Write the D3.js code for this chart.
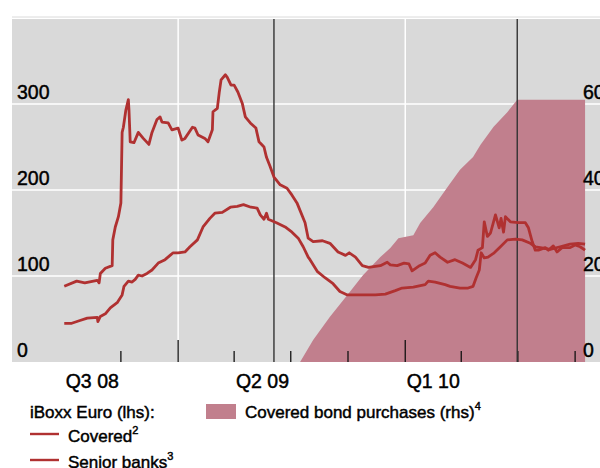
<!DOCTYPE html>
<html>
<head>
<meta charset="utf-8">
<script src="https://cdn.jsdelivr.net/npm/d3@7"></script>
<style>
    body { margin: 0; background: #fff; }
    svg text { font-family: "Liberation Sans", Arial, sans-serif; fill: #000; stroke: #000; stroke-width: 0.45px; }
</style>
</head>
<body>
<div id="chart"></div>
<script>
// iBoxx Euro spreads (lhs, bp) and cumulative covered bond purchases (rhs, bn EUR)
const coveredDates = ["2008-07-02", "2008-07-14", "2008-07-26", "2008-08-08", "2008-08-24", "2008-08-25", "2008-08-29",
    "2008-09-06", "2008-09-14", "2008-09-25", "2008-10-03", "2008-10-06", "2008-10-13", "2008-10-19", "2008-10-24",
    "2008-10-29", "2008-11-04", "2008-11-12", "2008-11-20", "2008-11-30", "2008-12-11", "2008-12-19", "2008-12-24",
    "2009-01-01", "2009-01-12", "2009-01-20", "2009-02-01", "2009-02-10", "2009-02-21", "2009-03-01", "2009-03-13",
    "2009-03-26", "2009-04-06", "2009-04-16", "2009-04-28", "2009-05-08", "2009-05-13", "2009-05-19", "2009-05-23",
    "2009-05-26", "2009-06-08", "2009-06-22", "2009-07-03", "2009-07-13", "2009-07-21", "2009-07-29", "2009-08-01",
    "2009-08-13", "2009-08-25", "2009-09-07", "2009-09-18", "2009-09-30", "2009-10-21", "2009-11-14", "2009-11-30",
    "2009-12-16", "2009-12-27", "2010-01-14", "2010-02-02", "2010-02-07", "2010-02-18", "2010-03-06", "2010-03-14",
    "2010-03-30", "2010-04-12", "2010-04-20", "2010-04-25", "2010-04-30", "2010-05-03", "2010-05-08", "2010-05-14",
    "2010-05-24", "2010-06-03", "2010-06-14", "2010-06-27", "2010-07-08", "2010-07-21", "2010-07-29", "2010-08-06",
    "2010-08-22", "2010-09-07", "2010-09-23", "2010-10-06", "2010-10-17"];
const coveredValues = [45, 45, 48, 51, 52, 47, 53,
    56, 63, 69, 78, 88, 94, 93, 96,
    101, 100, 103, 107, 115, 119, 124, 127,
    127, 128, 134, 142, 157, 167, 173, 174,
    180, 181, 183, 180, 179, 171, 166, 173,
    166, 162, 157, 151, 144, 134, 122, 119,
    105, 98, 91, 82, 78, 78, 78, 79,
    83, 86, 87, 90, 94, 93, 90, 88,
    86, 86, 88, 98, 107, 127, 121, 122,
    127, 134, 142, 143, 142, 138, 134, 133,
    131, 134, 137, 138, 137];

const seniorDates = ["2008-07-02", "2008-07-22", "2008-08-04", "2008-08-24", "2008-08-27", "2008-08-29", "2008-09-06",
    "2008-09-17", "2008-09-18", "2008-09-22", "2008-09-27", "2008-10-01", "2008-10-03", "2008-10-05", "2008-10-09",
    "2008-10-13", "2008-10-14", "2008-10-16", "2008-10-22", "2008-10-29", "2008-11-06", "2008-11-15", "2008-11-20",
    "2008-11-28", "2008-12-03", "2008-12-06", "2008-12-16", "2008-12-22", "2009-01-01", "2009-01-07", "2009-01-12",
    "2009-01-24", "2009-01-28", "2009-02-02", "2009-02-13", "2009-02-18", "2009-02-25", "2009-02-26", "2009-03-05",
    "2009-03-08", "2009-03-11", "2009-03-18", "2009-03-21", "2009-03-27", "2009-04-01", "2009-04-07", "2009-04-14",
    "2009-04-19", "2009-04-27", "2009-05-06", "2009-05-11", "2009-05-19", "2009-05-23", "2009-05-29", "2009-06-04",
    "2009-06-14", "2009-06-25", "2009-07-03", "2009-07-11", "2009-07-24", "2009-07-29", "2009-08-06", "2009-08-21",
    "2009-09-02", "2009-09-15", "2009-09-27", "2009-10-03", "2009-10-13", "2009-10-24", "2009-11-03", "2009-11-22",
    "2009-12-03", "2009-12-08", "2009-12-19", "2009-12-30", "2010-01-07", "2010-01-12", "2010-01-24", "2010-02-02",
    "2010-02-10", "2010-02-18", "2010-02-26", "2010-03-10", "2010-03-22", "2010-04-03", "2010-04-16", "2010-04-24",
    "2010-04-28", "2010-05-05", "2010-05-08", "2010-05-13", "2010-05-18", "2010-05-26", "2010-06-01", "2010-06-04",
    "2010-06-08", "2010-06-11", "2010-06-19", "2010-07-02", "2010-07-13", "2010-07-18", "2010-07-24", "2010-07-29",
    "2010-08-03", "2010-08-14", "2010-08-19", "2010-08-27", "2010-09-02", "2010-09-10", "2010-09-23", "2010-10-01",
    "2010-10-09", "2010-10-17"];
const seniorValues = [88, 94, 92, 95, 92, 103, 109,
    112, 142, 157, 169, 185, 267, 273, 293,
    305, 293, 256, 255, 267, 260, 253, 267,
    282, 285, 279, 278, 270, 272, 258, 260,
    273, 272, 264, 260, 256, 270, 291, 295,
    313, 328, 334, 331, 322, 322, 314, 301,
    285, 278, 272, 256, 250, 238, 227, 215,
    206, 202, 194, 185, 162, 144, 140, 141,
    138, 128, 124, 127, 122, 112, 110, 112,
    116, 113, 112, 115, 114, 106, 112, 115,
    124, 127, 122, 116, 119, 115, 110, 119,
    130, 133, 163, 146, 150, 171, 156, 167,
    151, 169, 163, 162, 162, 156, 140, 130,
    130, 133, 130, 135, 128, 133, 133, 136,
    134, 130];

const purchaseDates = ["2009-07-16", "2009-08-06", "2009-09-02", "2009-09-30", "2009-10-25", "2009-11-22", "2009-12-08",
    "2009-12-21", "2010-01-14", "2010-01-25", "2010-02-15", "2010-03-10", "2010-03-30", "2010-04-20", "2010-05-02",
    "2010-05-23", "2010-06-14", "2010-06-30", "2010-10-17"];
const purchaseValues = [0, 5.1, 10.5, 15.6, 20.2, 24.4, 26.5,
    28.8, 29.5, 32.3, 36, 40.7, 44.7, 47.7, 50.5,
    54.7, 58.1, 61, 61];

const leftTicks = [0, 100, 200, 300];
const rightTicks = [0, 20, 40, 60];
const quarterLabels = ["Q3 08", "Q2 09", "Q1 10"];
const quarterLabelStarts = ["2008-07-01", "2009-04-01", "2010-01-01"];
const eventDates = ["2009-06-04", "2010-06-30"];

const parse = d3.timeParse("%Y-%m-%d");
const width = 600, height = 468;
const plot = { left: 12, top: 19, right: 600, bottom: 362 };
const lineColor = "#b03131";
const fillColor = "#c17f8d";

const svg = d3.select("#chart").append("svg")
    .attr("width", width)
    .attr("height", height);

const x = d3.scaleTime()
    .domain([parse("2008-04-09"), parse("2010-11-10")])
    .range([plot.left, plot.right]);
const yLeft = d3.scaleLinear().domain([0, 400]).range([plot.bottom, 18]);
const yRight = d3.scaleLinear().domain([0, 80]).range([plot.bottom, 18]);

// background + top rule
svg.append("line")
    .attr("x1", plot.left).attr("x2", plot.right)
    .attr("y1", 17).attr("y2", 17)
    .attr("stroke", "#dadada").attr("stroke-width", 1);
svg.append("rect")
    .attr("x", plot.left).attr("y", plot.top)
    .attr("width", plot.right - plot.left).attr("height", plot.bottom - plot.top)
    .attr("fill", "#d9d9d9");

// white grid
svg.selectAll(".hgrid").data(leftTicks.filter(d => d > 0)).enter().append("line")
    .attr("x1", plot.left).attr("x2", plot.right)
    .attr("y1", d => yLeft(d)).attr("y2", d => yLeft(d))
    .attr("stroke", "#fff").attr("stroke-width", 1.5);
const yearStarts = [parse("2009-01-01"), parse("2010-01-01")];
svg.selectAll(".vgrid").data(yearStarts).enter().append("line")
    .attr("x1", d => x(d)).attr("x2", d => x(d))
    .attr("y1", plot.top).attr("y2", plot.bottom)
    .attr("stroke", "#fff").attr("stroke-width", 1.5);

// covered bond purchases (rhs)
const purchases = purchaseDates.map((d, i) => ({ date: parse(d), value: purchaseValues[i] }));
svg.append("path")
    .datum(purchases)
    .attr("fill", fillColor)
    .attr("d", d3.area()
        .x(d => x(d.date))
        .y0(yRight(0))
        .y1(d => yRight(d.value)));

// quarter ticks, long ones at year starts
const quarterTicks = d3.timeMonth.every(3).range(parse("2008-10-01"), parse("2010-10-02"));
svg.selectAll(".qtick").data(quarterTicks).enter().append("line")
    .attr("x1", d => x(d)).attr("x2", d => x(d))
    .attr("y1", d => d.getMonth() === 0 ? plot.bottom - 22 : plot.bottom - 11)
    .attr("y2", plot.bottom)
    .attr("stroke", "#111").attr("stroke-width", 1.3);

// event lines
svg.selectAll(".event").data(eventDates.map(parse)).enter().append("line")
    .attr("x1", d => x(d)).attr("x2", d => x(d))
    .attr("y1", plot.top).attr("y2", plot.bottom)
    .attr("stroke", "#333").attr("stroke-width", 1.4);

// spread lines
const line = d3.line().x(d => x(d.date)).y(d => yLeft(d.value));
[[coveredDates, coveredValues], [seniorDates, seniorValues]].forEach(([dates, values]) => {
    const series = dates.map((d, i) => ({ date: parse(d), value: values[i] }));
    svg.append("path")
        .datum(series)
        .attr("fill", "none")
        .attr("stroke", lineColor)
        .attr("stroke-width", 2.8)
        .attr("stroke-linejoin", "round")
        .attr("d", line);
});

// axis labels
svg.selectAll(".ylab").data(leftTicks).enter().append("text")
    .attr("x", 17).attr("y", d => yLeft(d) - 5)
    .style("font-size", "19.5px")
    .text(d => d);
svg.selectAll(".rlab").data(rightTicks).enter().append("text")
    .attr("x", 583).attr("y", d => yRight(d) - 5)
    .style("font-size", "19.5px")
    .text(d => d);
svg.selectAll(".xlab").data(quarterLabelStarts).enter().append("text")
    .attr("x", d => {
        const start = parse(d);
        return (x(start) + x(d3.timeMonth.offset(start, 3))) / 2;
    })
    .attr("y", 388)
    .attr("text-anchor", "middle")
    .style("font-size", "19.5px")
    .text((d, i) => quarterLabels[i]);

// legend
const legend = svg.append("g").style("font-size", "17px");
legend.append("text").attr("x", 30).attr("y", 418).text("iBoxx Euro (lhs):");

const legendItems = [
    { label: "Covered", note: "2", y: 434 },
    { label: "Senior banks", note: "3", y: 460 }
];
legendItems.forEach(item => {
    legend.append("line")
        .attr("x1", 30).attr("x2", 59)
        .attr("y1", item.y).attr("y2", item.y)
        .attr("stroke", lineColor).attr("stroke-width", 2.4);
    const t = legend.append("text").attr("x", 68).attr("y", item.y + 8);
    t.append("tspan").text(item.label);
    t.append("tspan").attr("dy", -8).style("font-size", "11px").text(item.note);
});

legend.append("rect")
    .attr("x", 206).attr("y", 404)
    .attr("width", 30).attr("height", 15)
    .attr("fill", fillColor);
const pt = legend.append("text").attr("x", 245).attr("y", 418);
pt.append("tspan").text("Covered bond purchases (rhs)");
pt.append("tspan").attr("dy", -8).style("font-size", "11px").text("4");
</script>
</body>
</html>
